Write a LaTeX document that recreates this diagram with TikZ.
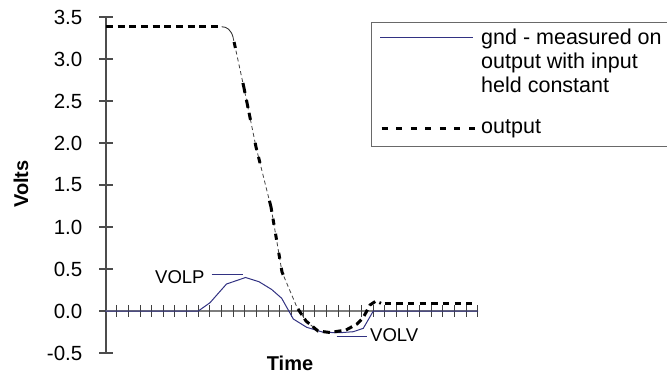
\documentclass[tikz,border=0pt]{standalone}
\usepackage{fontspec}
\setmainfont{Liberation Sans}
\definecolor{gndblue}{RGB}{50,50,130}
\definecolor{axisgray}{RGB}{125,125,125}
\definecolor{boxgray}{RGB}{105,105,105}
\begin{document}
\begin{tikzpicture}[x=1bp,y=-1bp,
  ylab/.style={font=\fontsize{20.5bp}{24bp}\selectfont, anchor=east, inner sep=0pt},
  axtitle/.style={font=\fontsize{20bp}{24bp}\selectfont\bfseries, inner sep=0pt},
  legtext/.style={font=\fontsize{21.5bp}{24bp}\selectfont, anchor=base west, inner sep=0pt},
  annot/.style={font=\fontsize{18.5bp}{22bp}\selectfont, anchor=base west, inner sep=0pt},
  gndline/.style={draw=gndblue, line width=1bp},
  outthick/.style={draw=black, line width=3bp, dash pattern=on 7bp off 4.67bp},
  outsteep/.style={draw=black, line width=3bp, dash pattern=on 6.1bp off 35.8bp on 10.2bp off 7.1bp on 8.2bp off 5.1bp on 7.1bp off 23.5bp on 7.2bp off 7.2bp on 6.2bp off 39bp on 11.2bp off 7.1bp on 6.1bp off 9.1bp on 6.1bp off 13.2bp on 6.1bp off 9.2bp on 7.2bp off 200bp},
  outthin/.style={draw=black!75, line width=0.8bp, dash pattern=on 4bp off 3bp},
  yaxis/.style={draw=black!70, line width=1.2bp},
  xaxis/.style={draw=axisgray, line width=1.8bp},
  xticks/.style={draw=black!75, line width=0.9bp},
  leader/.style={draw=gndblue, line width=1bp}]
\path[use as bounding box] (0,0) rectangle (667,373);

% vertical axis and ticks
\draw[yaxis] (106,17) coordinate (ytop) -- (106,353) coordinate (ybot);
\foreach \v/\t [count=\i] in {3.5/3.5,3.0/3.0,2.5/2.5,2.0/2.0,1.5/1.5,1.0/1.0,0.5/0.5,0.0/0.0,-0.5/-0.5}{
  \draw[yaxis] (99,{311-84*\v}) -- (113,{311-84*\v});
  \node[ylab] (yl\i) at (82.5,{311-84*\v}) {\t};
}
% horizontal axis
\draw[xaxis] (106,311) coordinate (xl) -- (478,311) coordinate (xr);
\foreach \k in {1,...,32}{
  \draw[xticks] ({105+11.65*\k},305) -- ({105+11.65*\k},317);
}

% axis titles
\node[axtitle, rotate=90, anchor=base] (volts) at (28,184) {Volts};
\node[axtitle, anchor=base] (time) at (290,370) {Time};

% gnd curve
\draw[gndline] (105,311) -- (198.3,311) -- (210,302.7) -- (226.5,284) -- (245.5,277.5)
  -- (259,281.7) -- (271.7,289.5) -- (281.7,298.3) -- (293.3,319) -- (306.7,327.3)
  -- (323.3,332.3) -- (340,332.7) -- (353.3,331.7) -- (363.3,328.3) -- (373.3,311) -- (478,311);

% output curve
\draw[outthick] (106,26.7) -- (221.7,26.7);
\draw[draw=black!80, line width=0.9bp] (221.7,26.7) .. controls (227,26.7) and (231,30) .. (233,37);
\draw[outthin] (233,37) -- (244,88) -- (256,147) -- (271,207) -- (282,272) -- (296.7,306.7) -- (306,321) -- (318,331);
\draw[outsteep] (234.1,42) -- (244,88) -- (256,147) -- (271,207) -- (282,272) -- (296.7,306.7);
\draw[outthick] (298,309) -- (306,321) -- (318,331) -- (330,332.5) -- (346,330) -- (357,324)
  -- (363,318) -- (370,305) -- (376,301) -- (381,303.3);
\draw[outthick, dash pattern=on 6.5bp off 5.15bp] (384.6,303.3) -- (472,303.3);

% annotations
\draw[leader] (211.7,274.5) -- (243,274.5);
\node[annot] (volp) at (155,283) {VOLP};
\draw[leader] (336.7,336) -- (366.7,336);
\node[annot] (volv) at (370,341.5) {VOLV};

% legend
\draw[draw=boxgray, line width=1.2bp] (672,22.7) -- (371.7,22.7) -- (371.7,146.7) -- (672,146.7);
\draw[gndline] (380,37.3) -- (473.3,37.3);
\node[legtext] (lg1) at (481,44.6) {gnd - measured on};
\node[legtext] (lg2) at (481,68.6) {output with input};
\node[legtext] (lg3) at (481,92.6) {held constant};
\draw[draw=black, line width=3bp, dash pattern=on 6bp off 8.55bp] (381.7,128.3) -- (475,128.3);
\node[legtext] (lg4) at (481,133.8) {output};
\end{tikzpicture}
\end{document}
